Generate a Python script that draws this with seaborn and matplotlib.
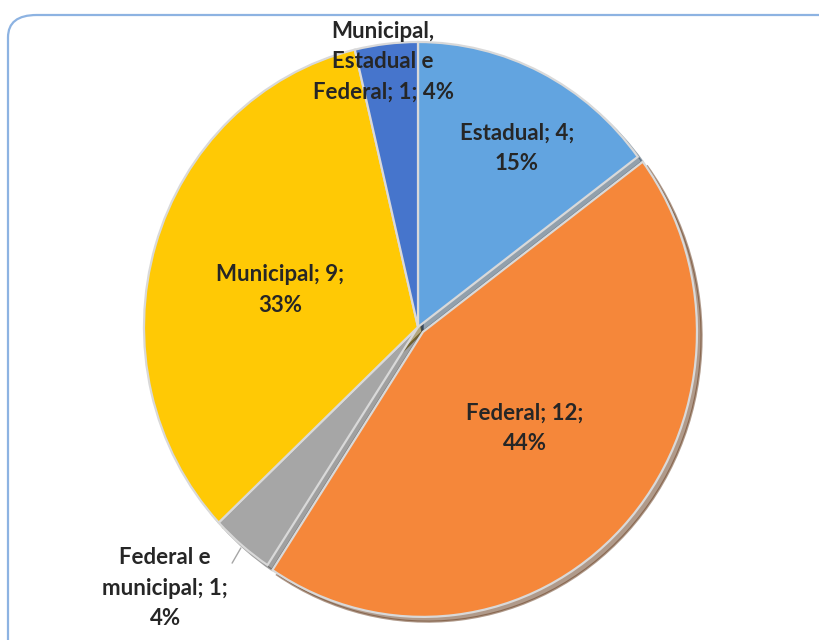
import numpy as np
import matplotlib
matplotlib.use("Agg")
import matplotlib.pyplot as plt
from matplotlib.patches import FancyBboxPatch
import seaborn as sns

# Esfera responsável (contagem de casos)
categorias = ["Estadual", "Federal", "Federal e\nmunicipal", "Municipal", "Municipal,\nEstadual e\nFederal"]
valores = [4, 12, 1, 9, 1]
cores = ["#62A4E0", "#F5873A", "#A6A6A6", "#FFC905", "#4675CC"]

sns.set_theme(style="white")
plt.rcParams["font.family"] = ["Lato", "DejaVu Sans"]

fig = plt.figure(figsize=(8.19, 6.4), dpi=100)
fig.patch.set_facecolor("white")

ax = fig.add_axes([0, 0, 1, 1])
ax.set_facecolor("none")

# Moldura arredondada do gráfico
topo = 1 - 15 / 640
moldura = FancyBboxPatch((8 / 819, -0.05), 1.05, topo + 0.05,
                         boxstyle="round,pad=0,rounding_size=0.035",
                         transform=fig.transFigure, facecolor="none",
                         edgecolor="#8DB3E2", linewidth=1.6, zorder=0)
ax.add_patch(moldura)

explode = [0.0, 0.025, 0.0, 0.0, 0.0]
wedges, _ = ax.pie(valores, colors=cores, startangle=90, counterclock=False,
                   explode=explode, radius=1.0,
                   wedgeprops=dict(edgecolor="#D9D9D9", linewidth=1.6),
                   shadow=dict(ox=0.012, oy=-0.012, shade=0.6))

ax.set_xlim(-418 / 274, 401 / 274)
ax.set_ylim(-313 / 285, 327 / 285)
ax.set_aspect("auto")
ax.axis("off")

total = sum(valores)
rotulos = []
for cat, v in zip(categorias, valores):
    pct = round(100 * v / total)
    if cat.startswith("Municipal,"):
        rotulos.append(f"{cat}; {v}; {pct}%")
    else:
        rotulos.append(f"{cat}; {v};\n{pct}%")

# posição dos rótulos: distância radial e desvio angular (graus)
distancias = [0.724, 0.527, 1.30, 0.52, 0.939]
desvios = [-3.2, 1.1, -5.2, 2.2, 1.1]
estilo = dict(ha="center", va="center", fontsize=16, fontweight="bold",
              color="#262626", linespacing=1.55)
for w, txt, d, dv in zip(wedges, rotulos, distancias, desvios):
    meio = np.deg2rad((w.theta1 + w.theta2) / 2)
    ang = meio + np.deg2rad(dv)
    x, y = d * np.cos(ang), d * np.sin(ang)
    if d > 1.1:
        ax.annotate(txt, xy=(0.99 * np.cos(meio), 0.99 * np.sin(meio)), xytext=(x, y),
                    arrowprops=dict(arrowstyle="-", color="#A6A6A6", lw=1,
                                    shrinkA=1, shrinkB=4,
                                    connectionstyle="angle,angleA=0,angleB=60,rad=0"),
                    **estilo)
    else:
        ax.text(x, y, txt, **estilo)

fig.savefig("out.png", dpi=100)
